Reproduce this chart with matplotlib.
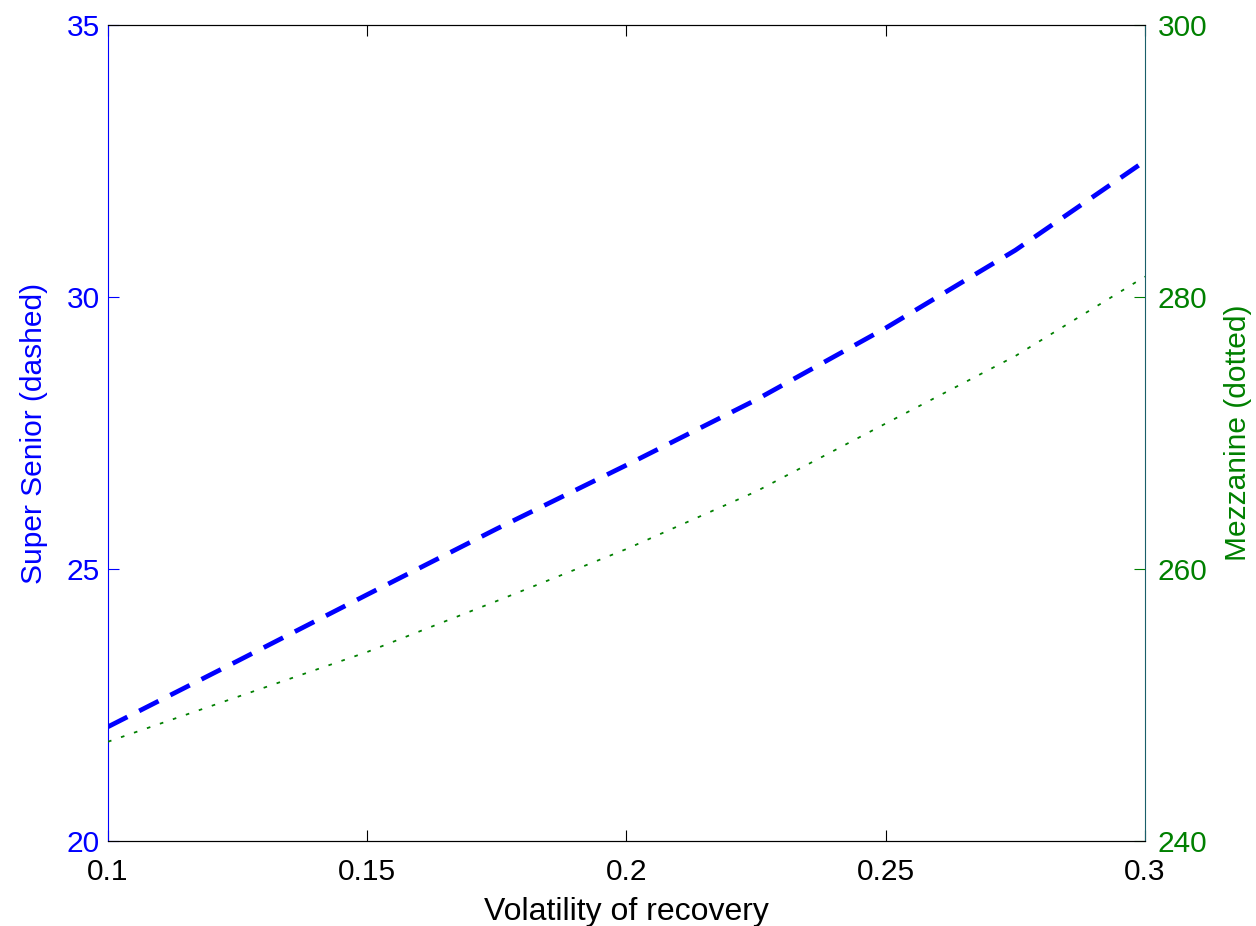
import matplotlib
matplotlib.use("Agg")
import matplotlib.pyplot as plt

plt.rcParams['font.family'] = ['Liberation Sans', 'DejaVu Sans']

vol = [0.1, 0.125, 0.15, 0.175, 0.2, 0.225, 0.25, 0.275, 0.3]
super_senior = [22.1, 23.31, 24.53, 25.74, 26.91, 28.11, 29.43, 30.86, 32.5]
mezzanine = [247.3, 250.6, 253.9, 257.65, 261.47, 265.7, 270.7, 275.66, 281.5]

blue = '#0000FF'
green = '#008000'

fig = plt.figure(figsize=(12.56, 9.26), dpi=100)
ax = fig.add_axes([0.086, 0.0918, 0.8256, 0.8812])
ax2 = ax.twinx()

ax.plot(vol, super_senior, color=blue, lw=3.4, linestyle=(0, (4.6, 2.8)))
ax2.plot(vol, mezzanine, color=green, lw=1.3, linestyle=(0, (2.0, 5.6)))

ax.set_xlim(0.1, 0.3)
ax.set_ylim(20, 35)
ax2.set_ylim(240, 300)
ax.set_xticks([0.1, 0.15, 0.2, 0.25, 0.3])
ax.set_xticklabels(['0.1', '0.15', '0.2', '0.25', '0.3'])
ax.set_yticks([20, 25, 30, 35])
ax2.set_yticks([240, 260, 280, 300])

ax.tick_params(axis='x', direction='in', length=8, labelsize=21.5, top=True, pad=12, colors='black')
ax.tick_params(axis='y', direction='in', length=8, labelsize=21.5, colors=blue, pad=6)
ax2.tick_params(axis='y', direction='in', length=8, labelsize=21.5, colors=green, pad=9)

ax.spines['left'].set_color(blue)
ax2.spines['left'].set_visible(False)
ax.spines['right'].set_visible(False)
ax2.spines['right'].set_color('#1a5f6a')
ax2.spines['top'].set_color('black')
ax2.spines['bottom'].set_color('black')

ax.set_xlabel('Volatility of recovery', fontsize=23, labelpad=8)
ax.set_ylabel('Super Senior (dashed)', fontsize=21.5, color=blue, labelpad=13)
ax2.set_ylabel('Mezzanine (dotted)', fontsize=21.5, color=green, labelpad=12)

fig.savefig('out.png', dpi=100)
